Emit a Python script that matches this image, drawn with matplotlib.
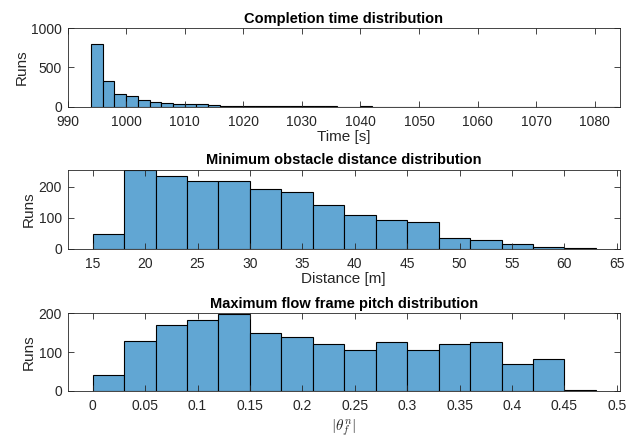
import numpy as np
import matplotlib
matplotlib.use("Agg")
from matplotlib import pyplot as plt

plt.rcParams['font.family'] = ['Liberation Sans', 'DejaVu Sans']
plt.rcParams['mathtext.fontset'] = 'cm'

# completion time histogram (bin width 2 s, starting at 994 s)
time_start = 994
time_width = 2
time_counts = [800, 330, 160, 140, 85, 58, 45, 35, 32, 30, 22, 15, 14, 10, 8, 6, 5, 4, 4, 3,
               3, 2, 2, 3, 2, 1, 2, 1, 1, 1, 1, 0, 1, 1, 0, 1, 0, 0, 1, 0, 0, 0, 1, 0, 1]

# minimum obstacle distance histogram (bin width 3 m, starting at 15 m)
dist_start = 15
dist_width = 3
dist_counts = [48, 255, 235, 220, 218, 195, 183, 143, 110, 92, 86, 36, 27, 15, 4, 1]

# maximum flow frame pitch histogram (bin width 0.03, starting at 0)
pitch_start = 0.0
pitch_width = 0.03
pitch_counts = [40, 128, 170, 183, 197, 148, 140, 121, 104, 126, 106, 120, 127, 68, 81, 2]

face = '#61a6d3'

fig = plt.figure(figsize=(6.35, 4.37), dpi=100)

panels = [
    (time_start, time_width, time_counts, 'Completion time distribution', 'Time [s]',
     (990, 1084.3), (0, 1000), np.arange(990, 1081, 10), [0, 500, 1000], None),
    (dist_start, dist_width, dist_counts, 'Minimum obstacle distance distribution', 'Distance [m]',
     (12.6, 65.3), (0, 255), np.arange(15, 66, 5), [0, 100, 200], None),
    (pitch_start, pitch_width, pitch_counts, 'Maximum flow frame pitch distribution', r'$|\theta_f^n|$',
     (-0.024, 0.503), (0, 200), np.arange(0, 0.51, 0.05), [0, 100, 200],
     ['0', '0.05', '0.1', '0.15', '0.2', '0.25', '0.3', '0.35', '0.4', '0.45', '0.5']),
]

# axes positions in pixels: left, right, top, bottom
W, H = 635, 437
boxes = [(67.5, 620, 28.3, 106.7), (67.5, 620, 170, 248.7), (67.5, 620, 313.3, 390.7)]

for (start, width, counts, title, xlabel, xlim, ylim, xt, yt, xtl), (l, r, t, b) in zip(panels, boxes):
    ax = fig.add_axes([l / W, 1 - b / H, (r - l) / W, (b - t) / H])
    edges = start + width * np.arange(len(counts))
    ax.bar(edges, counts, width=width, align='edge', color=face,
           edgecolor='black', linewidth=0.8)
    ax.set_xlim(*xlim)
    ax.set_ylim(*ylim)
    ax.set_xticks(xt)
    if xtl is not None:
        ax.set_xticklabels(xtl)
    ax.set_yticks(yt)
    ax.tick_params(direction='in', top=True, right=True, labelsize=10, length=4,
                   width=0.6, colors='#262626')
    ax.tick_params(axis='x', pad=6)
    ax.tick_params(axis='y', pad=4)
    for s in ax.spines.values():
        s.set_linewidth(0.6)
        s.set_color('#262626')
    ax.set_title(title, fontsize=10.5, fontweight='bold', pad=4)
    ax.set_ylabel('Runs', fontsize=11, color='#262626', labelpad=2)
    if xlabel.startswith('$'):
        ax.set_xlabel(xlabel, fontsize=11, color='#262626', labelpad=3)
    else:
        ax.set_xlabel(xlabel, fontsize=11, color='#262626', labelpad=1)

plt.savefig('out.png', dpi=100)
plt.close()
